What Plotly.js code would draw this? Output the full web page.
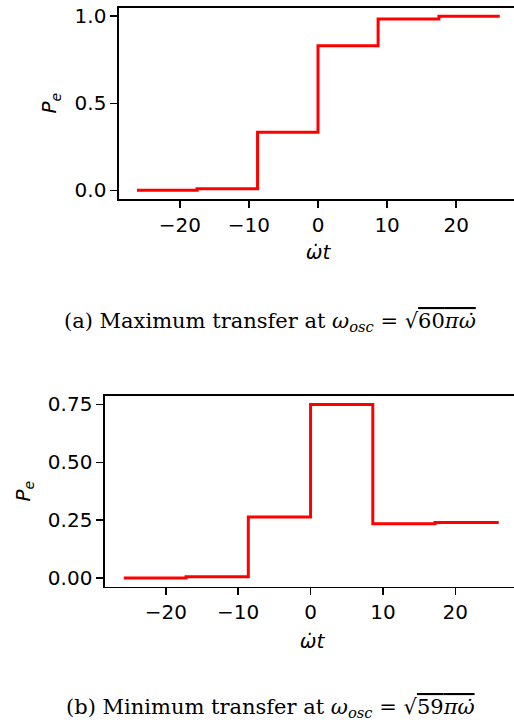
<!DOCTYPE html>
<html>
<head>
<meta charset="utf-8">
<script src="https://cdn.plot.ly/plotly-3.0.1.min.js"></script>
<style>
html, body { margin: 0; padding: 0; overflow: hidden; background: #fff; }
#chart { width: 524px; height: 723px; }
</style>
</head>
<body>
<div id="chart"></div>
<script>
// Panel (a): maximum transfer
const stepX_a = [-26.2, -17.5, -8.75, 0, 8.7, 17.5, 26.3];
const pe_a    = [0.0, 0.009, 0.333, 0.831, 0.984, 1.0, 1.0];
// Panel (b): minimum transfer
const stepX_b = [-25.8, -17.2, -8.6, 0, 8.6, 17.2, 26.0];
const pe_b    = [0.0, 0.005, 0.264, 0.75, 0.234, 0.240, 0.240];

const xTicks = [-20, -10, 0, 10, 20];
const yTicks_a = [0.0, 0.5, 1.0];
const yTicks_b = [0.0, 0.25, 0.5, 0.75];

const captionA = "(a) Maximum transfer at <i>ω</i><sub><i>osc</i></sub> = √<span style='text-decoration:overline'>60<i>πω̇</i></span>";
const captionB = "(b) Minimum transfer at <i>ω</i><sub><i>osc</i></sub> = √<span style='text-decoration:overline'>59<i>πω̇</i></span>";

const W = 524, H = 723;
const tickFont = {family: 'DejaVu Sans', size: 20, color: '#000'};

const lineStyle = {color: '#ff0000', width: 3, shape: 'hv'};

const traces = [
  {x: stepX_a, y: pe_a, xaxis: 'x', yaxis: 'y', mode: 'lines', line: lineStyle, hoverinfo: 'skip'},
  {x: stepX_b, y: pe_b, xaxis: 'x2', yaxis: 'y2', mode: 'lines', line: lineStyle, hoverinfo: 'skip'}
];

function xax(domain, range, anchor, standoff) {
  return {
    domain: domain, range: range, anchor: anchor,
    tickvals: xTicks, ticktext: xTicks.map(v => v < 0 ? '\u2212' + Math.abs(v) : String(v)),
    ticks: 'outside', ticklen: 7, tickwidth: 1.5, tickcolor: '#000',
    showline: true, linecolor: '#000', linewidth: 1.6, mirror: true,
    showgrid: false, zeroline: false, tickfont: tickFont,
    title: {text: '<i>ω̇t</i>', font: {family: 'DejaVu Sans', size: 20, color: '#000'}, standoff: standoff}
  };
}
function yax(domain, range, anchor, ticks, fmt) {
  return {
    domain: domain, range: range, anchor: anchor,
    tickvals: ticks, tickformat: fmt,
    ticks: 'outside', ticklen: 7, tickwidth: 1.5, tickcolor: '#000',
    showline: true, linecolor: '#000', linewidth: 1.6, mirror: true,
    showgrid: false, zeroline: false, tickfont: tickFont,
    title: {text: '<i>P</i><sub><i>e</i></sub>', font: {family: 'DejaVu Sans', size: 20, color: '#000'}, standoff: 12}
  };
}

const layout = {
  width: W, height: H,
  margin: {l: 0, r: 0, t: 0, b: 0},
  paper_bgcolor: '#fff', plot_bgcolor: '#fff',
  showlegend: false,
  xaxis: xax([119/W, 517/W], [-28.8, 28.8], 'y', 9),
  yaxis: yax([1 - 199/H, 1 - 7.5/H], [-0.05, 1.05], 'x', yTicks_a, '.1f'),
  xaxis2: xax([105/W, 519/W], [-28.4, 28.8], 'y2', 11),
  yaxis2: yax([1 - 586.7/H, 1 - 395.7/H], [-0.0375, 0.7875], 'x2', yTicks_b, '.2f'),
  annotations: [
    {text: captionA, xref: 'paper', yref: 'paper', x: 270/W, y: 1 - 322/H, xanchor: 'center', yanchor: 'middle', showarrow: false,
     font: {family: 'DejaVu Serif', size: 21, color: '#000'}},
    {text: captionB, xref: 'paper', yref: 'paper', x: 270/W, y: 1 - 708/H, xanchor: 'center', yanchor: 'middle', showarrow: false,
     font: {family: 'DejaVu Serif', size: 21, color: '#000'}}
  ]
};

Plotly.newPlot('chart', traces, layout, {staticPlot: true, displayModeBar: false});
</script>
</body>
</html>
